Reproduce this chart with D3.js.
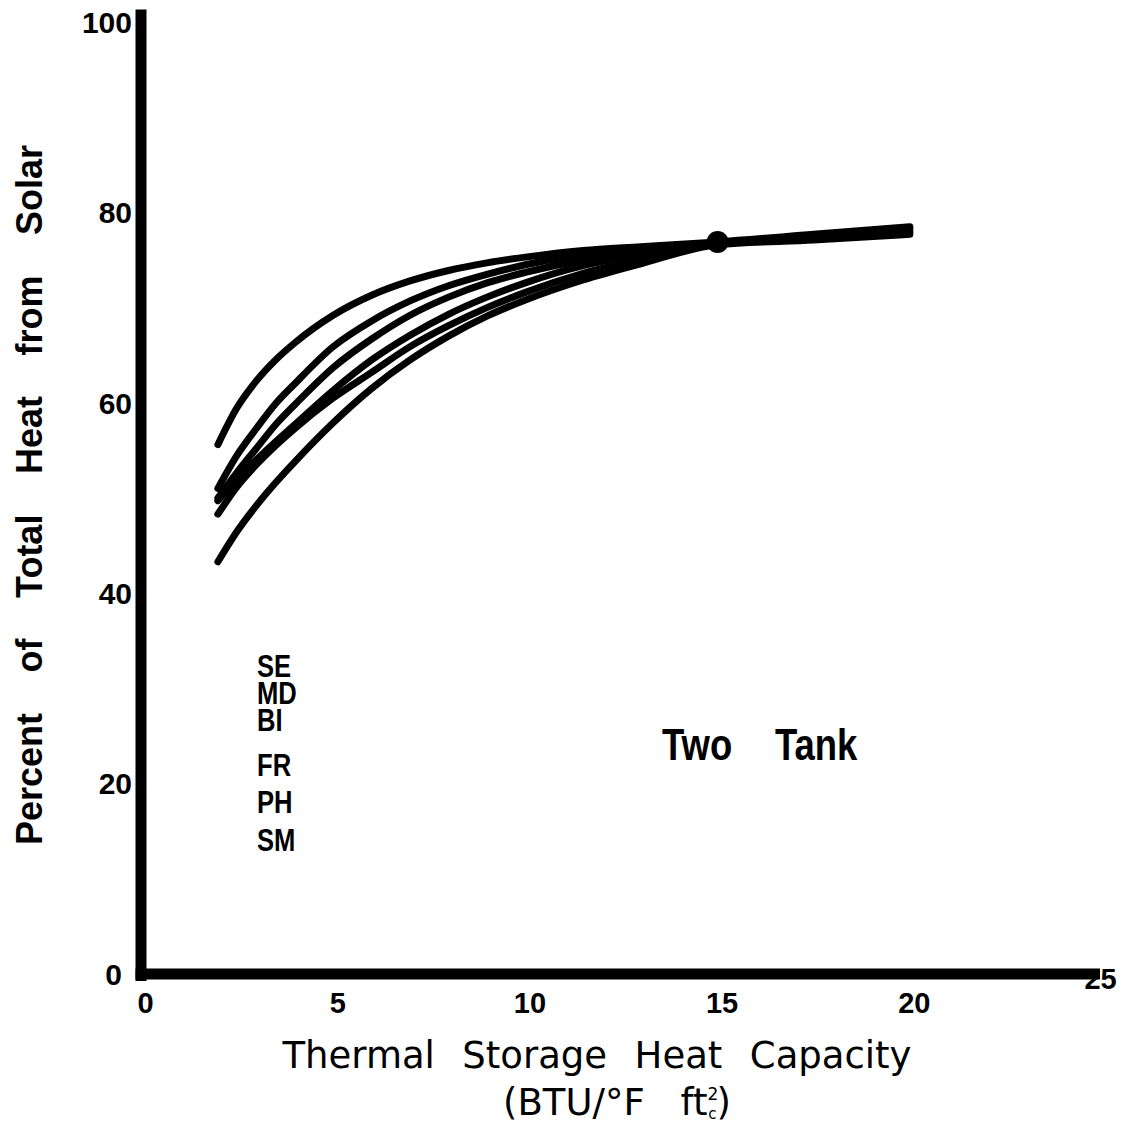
<!DOCTYPE html>
<html><head><meta charset="utf-8">
<script src="https://cdn.jsdelivr.net/npm/d3@7"></script>
<style>body{margin:0;background:#fff} svg{display:block}</style>
</head><body>
<svg id="chart" width="1125" height="1126"></svg>
<script>
// ---- data ----
const xTicks = [0, 5, 10, 15, 20, 25];
const yTicks = [0, 20, 40, 60, 80, 100];
const capacity = [2, 2.5, 3, 3.5, 4, 5, 6, 7, 8, 9, 10, 11.5, 13, 15, 17.5, 20];
const seriesNames = ["SE", "MD", "BI", "FR", "PH", "SM"];
const SE = [55.6, 59.5, 62.3, 64.5, 66.3, 69.2, 71.3, 72.8, 73.9, 74.7, 75.3, 76.0, 76.4, 76.9, 77.7, 78.5];
const MD = [51.0, 54.5, 57.3, 59.9, 62.0, 65.9, 68.6, 70.7, 72.3, 73.5, 74.5, 75.6, 76.2, 76.8, 77.6, 78.4];
const BI = [50.0, 52.7, 55.2, 57.7, 59.8, 63.7, 66.7, 69.2, 71.1, 72.6, 73.7, 75.0, 75.9, 76.8, 77.5, 78.2];
const FR = [49.7, 52.0, 54.0, 55.9, 57.7, 61.3, 64.5, 67.1, 69.3, 71.1, 72.6, 74.4, 75.6, 76.7, 77.3, 78.0];
const PH = [48.3, 51.2, 53.5, 55.5, 57.3, 60.5, 63.2, 65.9, 68.1, 70.0, 71.6, 73.6, 75.1, 76.7, 77.2, 77.9];
const SM = [43.3, 46.5, 49.2, 51.6, 53.8, 57.9, 61.5, 64.5, 67.0, 69.1, 70.8, 72.9, 74.6, 76.6, 77.1, 77.7];
const seriesValues = [SE, MD, BI, FR, PH, SM];
const markerX = [15];
const markerY = [76.9];
const yTitle = "Percent of Total Heat from Solar";
const xTitle = "Thermal Storage Heat Capacity";
const annotation = ["Two", "Tank"];

// ---- drawing ----
const svg = d3.select("#chart");
const x = d3.scaleLinear().domain([0, 25]).range([141, 1102]);
const y = d3.scaleLinear().domain([0, 100]).range([974, 22]);
const numFont = "'Liberation Sans', Arial, sans-serif";

// curves
const line = d3.line().x((d, i) => x(capacity[i])).y(d => y(d)).curve(d3.curveMonotoneX);
svg.append("g").selectAll("path").data(seriesValues).join("path")
  .attr("d", d => line(d))
  .attr("fill", "none").attr("stroke", "#000").attr("stroke-width", 7)
  .attr("stroke-linecap", "round").attr("stroke-linejoin", "round");

svg.append("g").selectAll("circle").data(markerX).join("circle")
  .attr("cx", d => x(d)).attr("cy", (d, i) => y(markerY[i])).attr("r", 11).attr("fill", "#000");

// axes
const gy = svg.append("g").attr("transform", `translate(${x(0)},0)`)
  .call(d3.axisLeft(y).tickValues(yTicks).tickSize(0).tickPadding(9).tickFormat(d3.format("d")));
gy.select(".domain").remove();
gy.selectAll("text").attr("font-size", 30).attr("font-family", numFont).attr("font-weight", "bold")
  .attr("fill", "#000").attr("dy", "0.34em").attr("dx", d => d === 0 ? -10 : 0);

const gx = svg.append("g").attr("transform", `translate(0,${y(0)})`)
  .call(d3.axisBottom(x).tickValues(xTicks).tickSize(0).tickPadding(18).tickFormat(d3.format("d")));
gx.select(".domain").remove();
gx.selectAll("text").attr("font-size", 29).attr("font-family", numFont).attr("font-weight", "bold")
  .attr("fill", "#000")
  .attr("dx", d => d === 25 ? -2 : 4)
  .attr("y", d => d === 25 ? -6 : 18);

// thick axis lines
svg.append("line").attr("x1", x(0)).attr("x2", x(0)).attr("y1", y(0) + 7).attr("y2", y(101.3))
  .attr("stroke", "#000").attr("stroke-width", 11);
svg.append("line").attr("x1", x(0) - 5.5).attr("x2", x(25) - 2).attr("y1", y(0)).attr("y2", y(0))
  .attr("stroke", "#000").attr("stroke-width", 11);

function fitWords(sel, target) {
  const n = sel.text().split(" ").length - 1;
  const w = sel.node().getComputedTextLength();
  sel.attr("word-spacing", Math.max(0, (target - w) / n));
}

// y title
const yt = svg.append("text").attr("transform", "translate(42,495) rotate(-90)")
  .attr("text-anchor", "middle").attr("font-family", "'Liberation Sans', Arial, sans-serif")
  .attr("font-size", 36).attr("font-weight", "bold").attr("fill", "#000").text(yTitle);
fitWords(yt, 700);

// x title
const xt = svg.append("text").attr("x", 597).attr("y", 1068)
  .attr("text-anchor", "middle").attr("font-family", "'DejaVu Sans', sans-serif")
  .attr("font-size", 37).attr("fill", "#000").text(xTitle);
fitWords(xt, 629);

const units = svg.append("text").attr("x", 503).attr("y", 1115)
  .attr("font-family", "'DejaVu Sans', sans-serif").attr("font-size", 37).attr("fill", "#000")
  .attr("word-spacing", 24);
units.append("tspan").text("(BTU/°F ft");
units.append("tspan").attr("font-size", 17).attr("dy", -15).text("2");
units.append("tspan").attr("font-size", 15).attr("dx", -10).attr("dy", 19).text("c");
units.append("tspan").attr("dy", -4).text(")");

// legend list
svg.append("g").selectAll("text").data(seriesNames).join("text")
  .attr("transform", (d, i) => `translate(257,${[677, 704, 731, 776, 813, 851][i]}) scale(0.8,1)`)
  .attr("font-family", "'Liberation Sans', Arial, sans-serif").attr("font-weight", "bold")
  .attr("font-size", 32).attr("fill", "#000").text(d => d);

// annotation
svg.append("g").selectAll("text").data(annotation).join("text")
  .attr("transform", (d, i) => `translate(${[662, 775][i]},760) scale(0.81,1)`)
  .attr("font-family", "'Liberation Sans', Arial, sans-serif").attr("font-weight", "bold")
  .attr("font-size", 45).attr("fill", "#000").text(d => d);
</script>
</body></html>
